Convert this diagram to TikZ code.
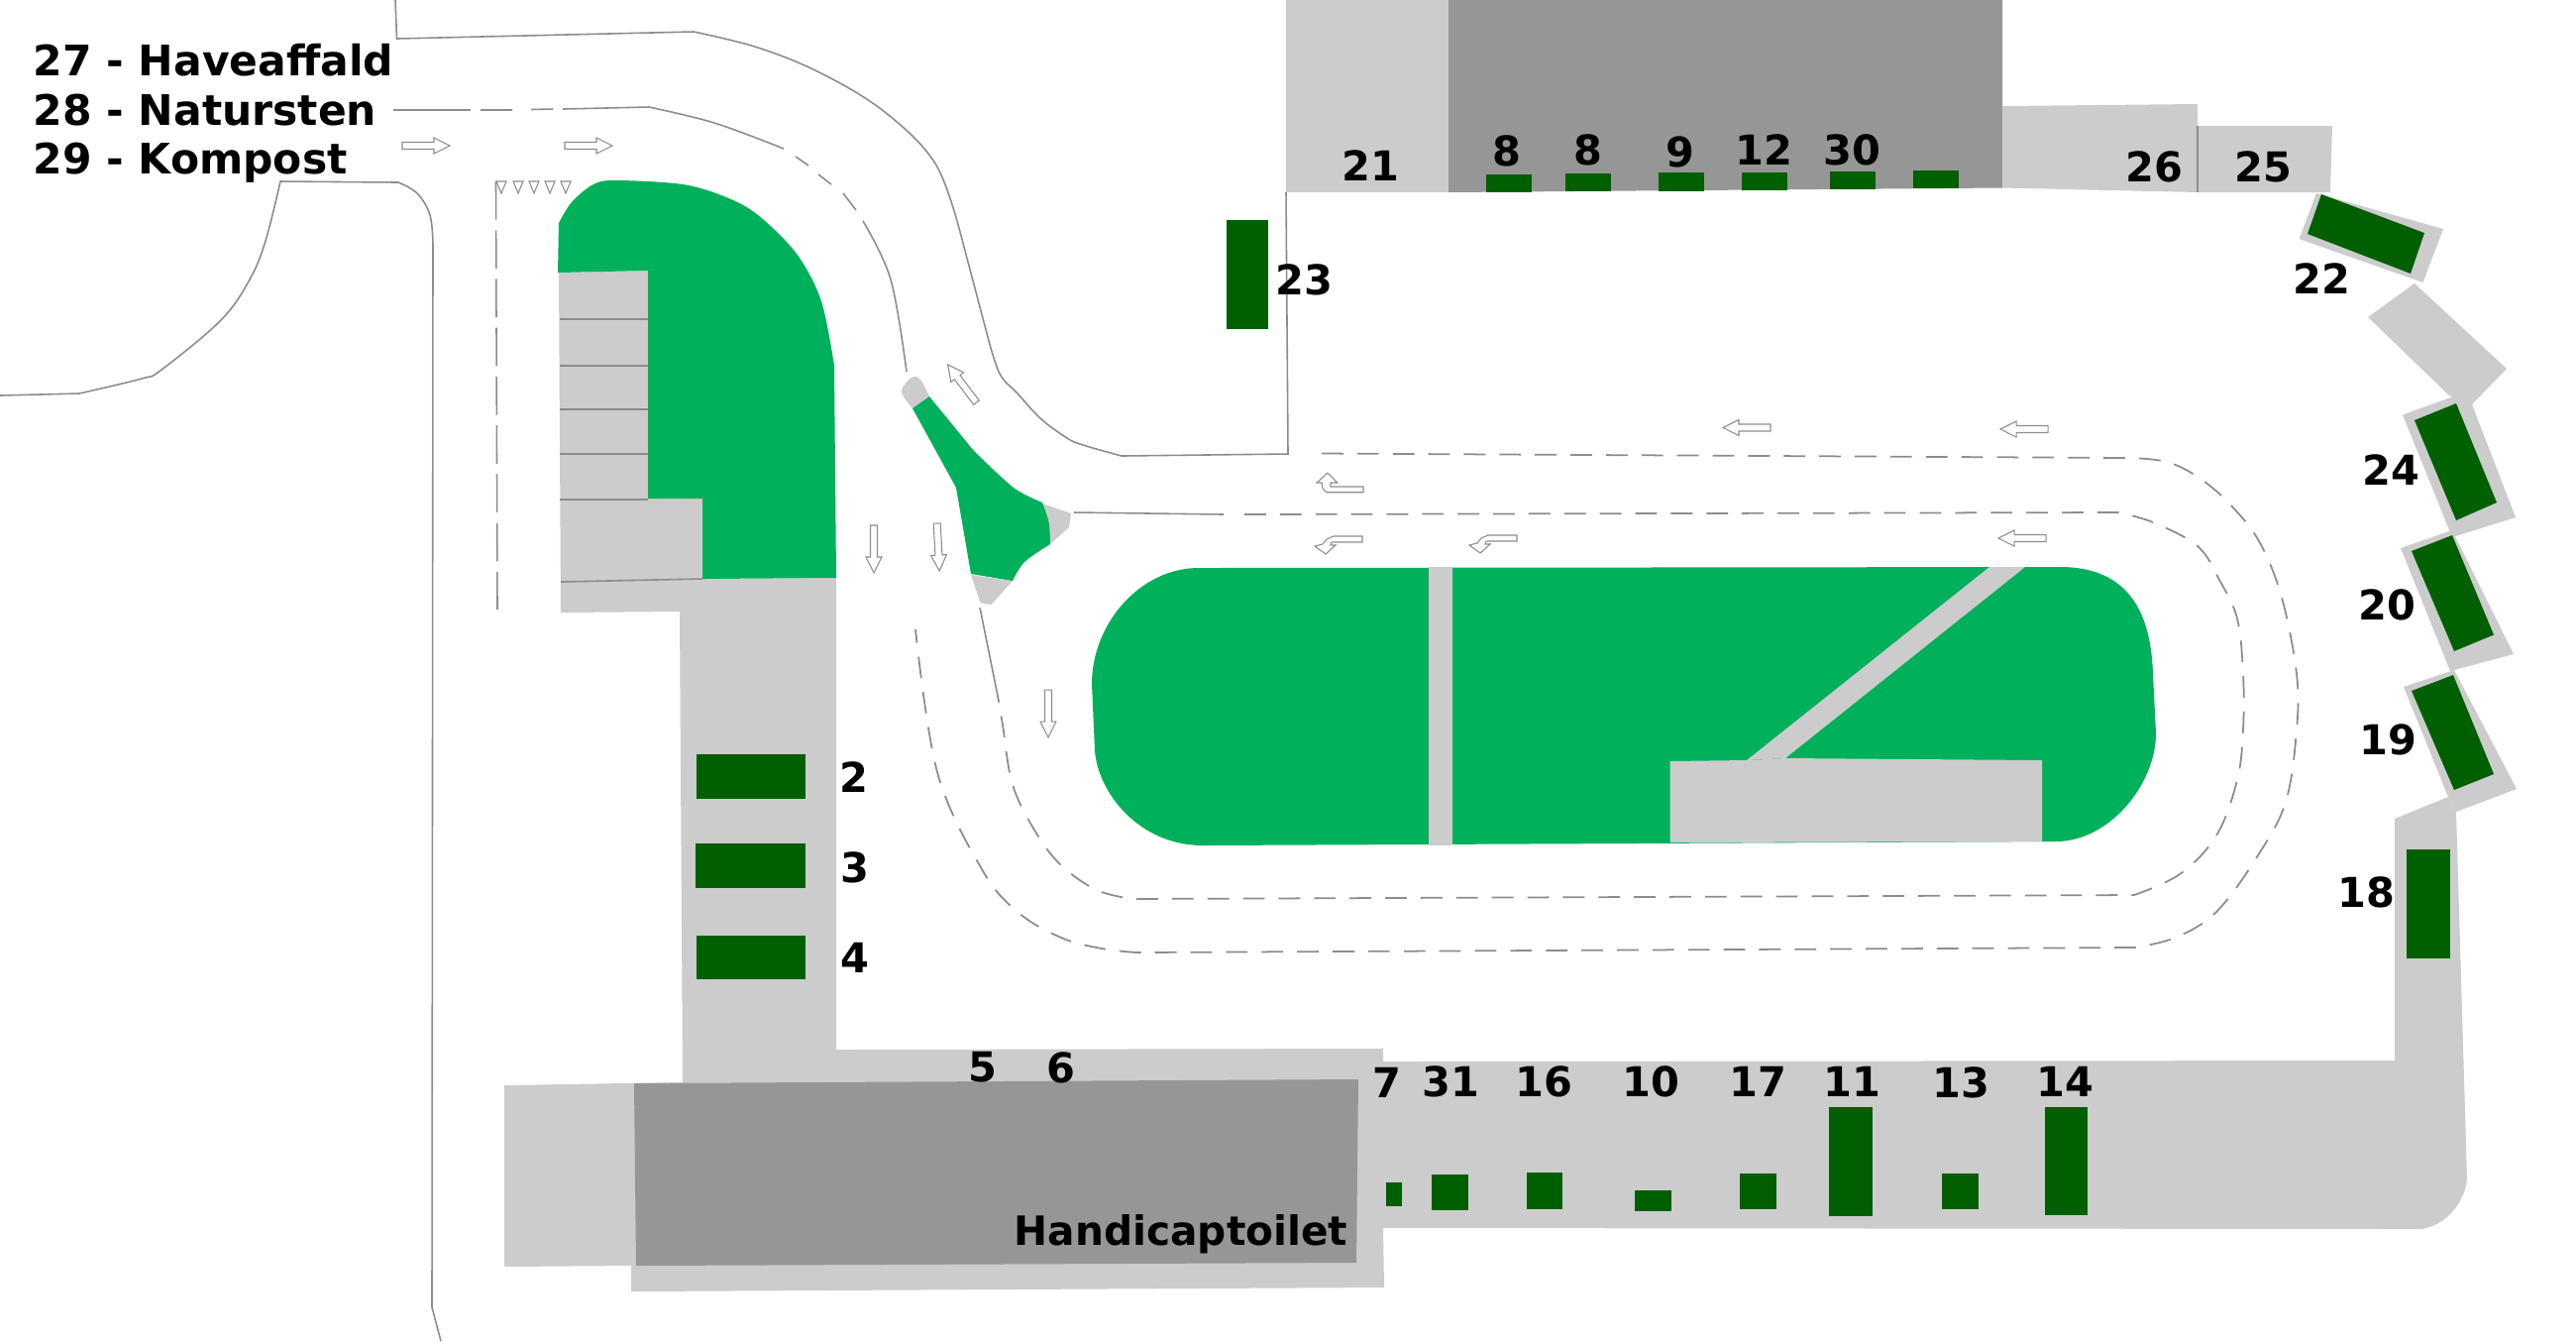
\documentclass[tikz,border=0pt]{standalone}
\usepackage{fontspec}
\setmainfont{DejaVu Sans}
\definecolor{paving}{HTML}{CCCCCC}
\definecolor{hall}{HTML}{969696}
\definecolor{lawn}{HTML}{00B05A}
\definecolor{bay}{HTML}{005F00}
\definecolor{roadline}{HTML}{8C8C8C}
\tikzset{
  numlabel/.style={font=\bfseries\fontsize{11.8}{14}\selectfont, inner sep=0pt},
  legendlabel/.style={font=\bfseries\fontsize{12.07}{14}\selectfont, inner sep=0pt, anchor=base west},
  kerb/.style={roadline, line width=0.45pt},
  lane/.style={roadline, line width=0.5pt, dash pattern=on 6.2pt off 4pt},
  hollow/.style={roadline, line width=0.3pt, fill=white},
  straightarrow/.pic={\draw[hollow] (-24,-3.5) -- (8,-3.5) -- (8,-8) -- (24,0) -- (8,8) -- (8,3.5) -- (-24,3.5) -- cycle;},
  upturn/.pic={\draw[hollow] (0,0) -- (10,10) -- (3,10) -- (3,14) -- (36,14) -- (36,19.7) -- (-1,19.7) -- (-5,16) -- (-6,10) -- (-11,10) -- cycle;},
  downturn/.pic={\draw[hollow] (0,0) -- (10,-9) -- (5,-9) -- (6,-12) -- (37,-12) -- (37,-18) -- (8,-18) -- (1,-15) -- (-3,-10) -- (-11,-8) -- cycle;}
}
\begin{document}
\begin{tikzpicture}[x=0.01cm, y=-0.01cm]
\useasboundingbox (0,0) rectangle (2600,1353);

\fill[paving] (564,275) -- (654,273) -- (654,503) -- (709,503) -- (709,584) -- (844,583) -- (844,1059) -- (1396,1058) -- (1396,1071) -- (2417,1070) -- (2417,826) -- (2471,804) -- (2479,819) -- (2490,1189) .. controls (2488,1215) and (2465,1240) .. (2440,1240) -- (1396,1239) -- (1397,1299) -- (637,1303) -- (637,1277) -- (509,1278) -- (509,1095) -- (689,1092) -- (686,617) -- (566,618) -- cycle;
\fill[hall] (640,1093) -- (1371,1089) -- (1369,1274) -- (642,1277) -- cycle;

\fill[paving] (1298,0) rectangle (1462,194);
\fill[hall] (1462,0) -- (2021,0) -- (2021,189.5) -- (1462,194) -- cycle;
\fill[paving] (2021,107) -- (2218,105) -- (2218,127) -- (2354,127) -- (2352,194) -- (2218,194) -- (2021,189.5) -- cycle;
\draw[kerb] (2218,127) -- (2218,194);

\fill[paving] (2338,195) -- (2466,231) -- (2445.5,285) -- (2320.5,241) -- cycle;
\fill[paving] (2437,286) -- (2530,372) -- (2495,408) -- (2472,399) -- (2390,320) -- cycle;
\fill[paving] (2425,418.5) -- (2479,399) -- (2495,408) -- (2539,522) -- (2475,542) -- cycle;
\fill[paving] (2423,553) -- (2475,535) -- (2537,660) -- (2473,677) -- cycle;
\fill[paving] (2426,693) -- (2477,676) -- (2540,796) -- (2479,819) -- (2471,804) -- cycle;

\fill[lawn] (563,275) -- plot[smooth, tension=.55] coordinates {(564,225) (577,204) (599,186) (622,182) (689,186) (733,199) (765,217) (804,256) (829,304) (842,369)} -- (844,583) -- (709,584) -- (709,503) -- (654,503) -- (654,273) -- cycle;

\foreach \ly in {322,369,413,458,504} {
\draw[kerb] (565,\ly) -- (654,\ly);
}
\draw[kerb] (566,587) -- (709,584);

\fill[lawn] (1210,573) .. controls (1150,573) and (1102,630) .. (1102,690) -- (1105,757) .. controls (1108,800) and (1150,853) .. (1214,853) -- (2075,849) .. controls (2130,849) and (2176,790) .. (2176,740) -- (2173,680) .. controls (2171,620) and (2150,572) .. (2079,572) -- cycle;
\fill[paving] (1442,572) rectangle (1465.5,853);
\fill[paving] (2008,572) -- (2044,572) -- (1802,765) -- (1763,767) -- cycle;
\fill[paving] (1685.5,768) -- (1763,767) -- (1802,765) -- (2061,767) -- (2061,849) -- (1685.5,850) -- cycle;

\fill[paving] plot[smooth, tension=.6] coordinates {(921,412) (910,395) (920,381) (929,383) (938,400)} -- cycle;
\fill[paving] (1052,508) -- (1081,518) -- (1079,532) -- (1060,549) -- cycle;
\fill[paving] (980,580) -- (1022,586) -- (1000.5,610) -- (992,609) -- (989,607) -- cycle;
\fill[lawn] (938,400) -- plot[smooth, tension=.5] coordinates {(983,455) (1023,492) (1052,507)} -- plot[smooth, tension=.5] coordinates {(1052,507) (1058.6,527) (1060,549)} -- plot[smooth, tension=.5] coordinates {(1060,549) (1034,567) (1022,586)} -- (980,579) -- (965,492) -- (921,412) -- cycle;

\foreach \ax/\ay/\bx/\by in {1500/176/1545.5/194, 1580/175/1626/193, 1674/174/1720/192.5, 1758/173.5/1804/192, 1847/172.6/1893/191, 1931/172/1977/190, 1237.5/222/1280/332, 703/761/813/806, 702/851/812.5/896, 703/943.5/813/988, 1399/1193/1415/1217, 1445/1185/1482/1221, 1540.5/1183/1577/1220, 1650/1201/1687/1222, 1756/1184/1793/1220, 1845.6/1117/1889.5/1227, 1960/1184/1996.5/1220, 2064/1116.5/2107/1226, 2429/857/2473/967} {
\fill[bay] (\ax,\ay) rectangle (\bx,\by);
}
\fill[bay] (2343,196) -- (2447,235) -- (2433,276) -- (2329,236) -- cycle;
\fill[bay] (2437,424) -- (2479,407) -- (2520,507) -- (2479,525) -- cycle;
\fill[bay] (2434,556) -- (2475,540) -- (2517,640.5) -- (2477,657) -- cycle;
\fill[bay] (2434,697) -- (2476,681) -- (2517,781) -- (2477,797) -- cycle;

\draw[kerb] (399,0) -- (400.5,39) -- (700,32) -- plot[smooth, tension=.6] coordinates {(700,32) (765,48) (829,74) (893,113) (944,165) (969,234)} -- (997,340) -- plot[smooth, tension=.6] coordinates {(997,340) (1009,377) (1027,397) (1050,422) (1074,440) (1090,448) (1132,460)} -- (1300,458) -- (1298,194);
\draw[kerb] (0,399) -- (80,397) -- plot[smooth, tension=.6] coordinates {(80,397) (143,382) (163,373) (223,323) (252,282) (268,243) (283,183)} -- (402,184) -- plot[smooth, tension=.6] coordinates {(402,184) (421,195) (434,217) (437,247)} -- (436,1319) -- (445,1353);
\draw[kerb] (397,111) -- (475,111);
\draw[kerb] (568,110) -- (655,108) -- plot[smooth, tension=.6] coordinates {(655,108) (721,124) (791,150)};
\draw[kerb] (485,111) -- (517,111) (536,110.5) -- (558,110) (803,158) -- (816,167) (826,176) -- (839,186) (851,195) -- (864,212);
\draw[kerb] plot[smooth, tension=.6] coordinates {(871,223) (899,282) (915,375)};
\draw[kerb] (1084,517) -- (1235,519);
\draw[kerb] (989,613) -- (1007,702);
\draw[kerb, dash pattern=on 11pt off 3pt] (500.5,183) -- (502,615);

\draw[lane] (1256,519) -- (2137.5,517) -- plot[smooth, tension=.6] coordinates {(2137.5,517) (2173,527) (2218,551) (2240,585) (2258,624) (2264,680) (2264,736) (2258,787) (2237,843) (2200,882) (2154,903)} -- (1143,907) -- plot[smooth, tension=.6] coordinates {(1143,907) (1107,898) (1071,873) (1045,839) (1022,791.6) (1012,731.5) (1007,702)};
\draw[lane] (1334,457.5) -- (2151,462) -- plot[smooth, tension=.6] coordinates {(2151,462) (2187,466) (2218,481) (2249,507) (2280,546) (2303,603) (2318,680) (2318,736) (2307,809) (2278,864.5) (2237,920) (2195.5,946) (2154,956)} -- (1147,961) -- plot[smooth, tension=.6] coordinates {(1147,961) (1112,957) (1071,946) (1027,920) (991,877) (946,779) (924,635)};

\foreach \tx in {506,523,539,555,571} {
\draw[hollow] (\tx-5,183) -- (\tx+5,183) -- (\tx,195) -- cycle;
}

\foreach \ax/\ay/\ang in {430/147/0, 594/147/0, 882/554/-90, 947/552/-87, 1058/720/-90, 971/387/127, 1763/431.5/180, 2043/433/180, 2041/543/180} {
\pic[rotate=\ang] at (\ax,\ay) {straightarrow};
}
\pic at (1340,477) {upturn};
\pic at (1338,559) {downturn};
\pic at (1494,558) {downturn};

\foreach \lx/\ly/\txt [count=\n] in {1383/167/21, 1521/152/8, 1603/151/8, 1695.5/153/9, 1780/151/12, 1869/151/30, 2174/168/26, 2284/168/25, 1316/282/23, 2343/281/22, 2413/474/24, 2409/610/20, 2410/746.5/19, 2388/900/18, 1399.5/1092/7, 1464/1091/31, 1558/1091/16, 1666.5/1091/10, 1774/1091/17, 1869/1091/11, 1979/1092/13, 2084/1091/14, 862/784/2, 863/875/3, 863/966/4, 992/1077/5, 1071/1077/6} {
\node[numlabel] (num\n) at (\lx,\ly) {\txt};
}
\node[font=\bfseries\fontsize{11.57}{14}\selectfont, inner sep=0pt] (toilet) at (1192,1245) {Handicaptoilet};

\node[legendlabel] (garden) at (33,76) {27 - Haveaffald};
\node[legendlabel] (stone) at (33,126.6) {28 - Natursten};
\node[legendlabel] (compost) at (33,175.6) {29 - Kompost};
\end{tikzpicture}
\end{document}
